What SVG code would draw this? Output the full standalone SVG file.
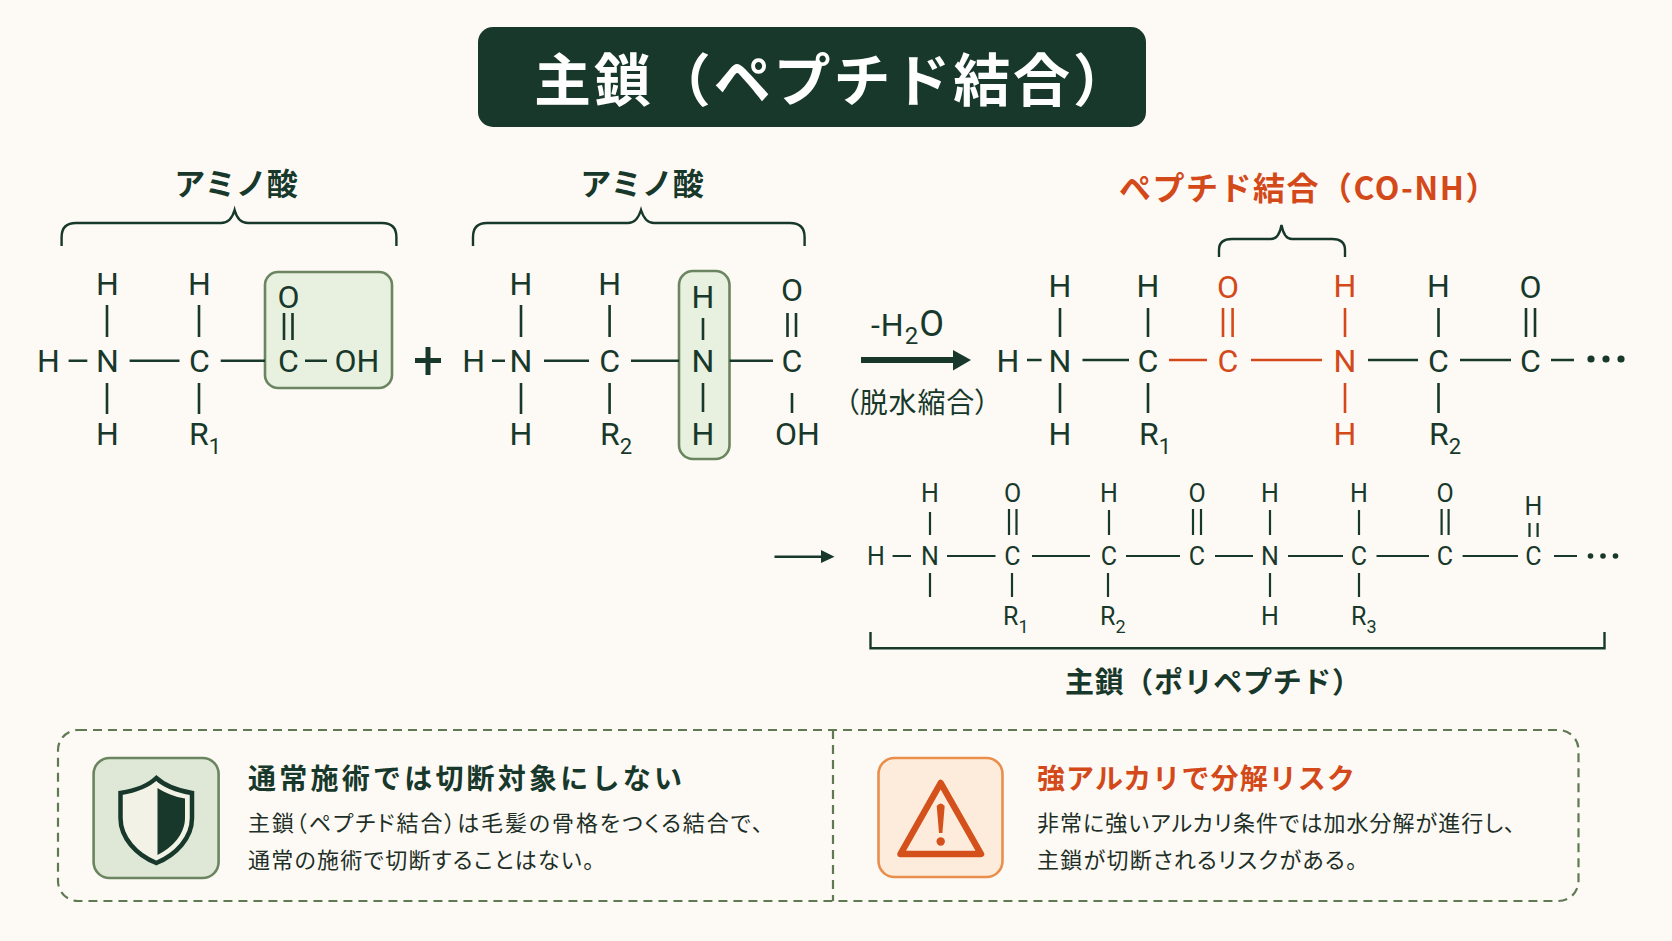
<svg xmlns="http://www.w3.org/2000/svg" width="1672" height="941" viewBox="0 0 1672 941">
<defs>
<style>
.a{font-family:Roboto,"Liberation Sans",sans-serif;font-size:32px;fill:#17382b;text-anchor:middle}
.s{font-family:Roboto,"Liberation Sans",sans-serif;font-size:25px;fill:#17382b;text-anchor:middle}
.l{text-anchor:start}
.o{fill:#d4491a}
.j{font-family:"Noto Sans CJK JP",sans-serif;fill:#17382b}
.b{font-weight:700}
.m{font-weight:500}
.body{font-size:22px;font-weight:400;fill:#1d2f27;font-feature-settings:"palt"}
.bond{stroke:#17382b;stroke-width:2.6;fill:none}
.bo{stroke:#d4491a;stroke-width:2.6;fill:none}
.th{stroke-width:2.2}
.brace{stroke:#17382b;stroke-width:2.4;fill:none}
.hl{fill:#e8f0e0;stroke:#6b8560;stroke-width:2.6}
</style>
</defs>
<rect id="background" width="1672" height="941" fill="#fdfaf5"/>
<g id="title"><rect x="478" y="27" width="668" height="100" rx="15" fill="#17382b"/><text class="j b" x="534" y="101" font-size="57" style="fill:#fff" textLength="596" lengthAdjust="spacing">主鎖（ペプチド結合）</text></g>
<g id="highlights"><rect id="hl-cooh" class="hl" x="265" y="272" width="127" height="116" rx="13"/><rect id="hl-nh" class="hl" x="679" y="271" width="50.500" height="188" rx="14"/></g>
<g id="connectors">
<path class="brace" d="M61.600 246V237Q61.600 223 76 223H221Q231 223 234.600 210Q238 223 248 223H382Q396.400 223 396.400 237V246"/>
<path class="brace" d="M473 246V237Q473 223 487 223H628Q637 223 641 210Q645 223 654 223H790Q804.600 223 804.600 237V246"/>
<path class="brace" d="M1219 257V250Q1219 239 1232 239H1271Q1279 239 1281.500 225Q1284 239 1292 239H1332Q1345 239 1345 250V257"/>
<path class="brace" d="M870.500 632V648.300H1604.500V632"/>
<g id="bonds-1"><path class="bond" d="M68.600 360.700H87.300M129.600 360.700H179.500M220.700 360.700H265M305 360.700H327M107 305V337M107 383V414M199 305V337M199 383V414M284 313V340M292.500 313V340"/></g>
<path id="plus" d="M415 360.500H441M428 347V375" stroke="#17382b" stroke-width="5" fill="none"/>
<g id="bonds-2"><path class="bond" d="M492 360.700H505M544 360.700H589M631 360.700H679M729.600 360.700H773M521 305V337M521 383V414M609.600 305V337M609.600 383V414M703 318V340M703 383V412M787.500 313V337M796 313V337M792 393V413"/></g>
<g id="arrow-1"><path d="M861 360H956" stroke="#17382b" stroke-width="6" fill="none"/><path d="M953 350L971 360L953 370.500Z" fill="#17382b"/></g>
<g id="bonds-3"><path class="bond" d="M1027 360H1041.600M1082.500 360H1129M1368 360H1418M1460 360H1511M1551 360H1574M1060 308V337M1060 383V413M1148 308V337M1148 383V413M1438.500 308V337M1438.500 383V413M1526 308V337M1535 308V337"/>
<path class="bo" d="M1169 360H1207M1251 360H1322M1223 308V337M1232.600 308V337M1345 308V337M1345 383V413"/>
<g fill="#17382b"><circle cx="1591" cy="359" r="3.600"/><circle cx="1606" cy="359" r="3.600"/><circle cx="1621" cy="359" r="3.600"/></g></g>
<g id="arrow-2"><path d="M774.500 556.700H824" stroke="#17382b" stroke-width="2.600" fill="none"/><path d="M821 550L834.500 556.700L821 563Z" fill="#17382b"/></g>
<g id="bonds-4"><path class="bond th" d="M892.600 556H911M947 556H995.500M1032 556H1090M1126 556H1180M1215 556H1253M1288 556H1343M1376.500 556H1429M1462.600 556H1518M1554 556H1577M930 512V535M930 573V597M1009 509V535M1016.500 509V535M1012 573V597M1109 510V535M1108 573V597M1193 509V535M1201 509V535M1270 510V535M1270 573V597M1359 510V535M1359 573V597M1441.600 509V535M1448.600 509V535M1529.500 523V537M1537.600 523V537"/>
<g fill="#17382b"><circle cx="1590.500" cy="556" r="2.800"/><circle cx="1603" cy="556" r="2.800"/><circle cx="1615.500" cy="556" r="2.800"/></g></g>
</g>
<g id="amino-acid-1">
<g id="m1-h1"><text class="a" x="48.500" y="372">H</text></g>
<g id="m1-n"><text class="a" x="107.500" y="372">N</text></g>
<g id="m1-n-ht"><text class="a" x="107.500" y="295">H</text></g>
<g id="m1-n-hb"><text class="a" x="107.500" y="445">H</text></g>
<g id="m1-c"><text class="a" x="199.500" y="372">C</text></g>
<g id="m1-c-ht"><text class="a" x="199.500" y="295">H</text></g>
<g id="m1-r"><text class="a l" x="189" y="445">R<tspan font-size="22" dy="9">1</tspan></text></g>
<g id="m1-o"><text class="a" x="288.500" y="308">O</text></g>
<g id="m1-c2"><text class="a" x="288.500" y="372">C</text></g>
<g id="m1-oh"><text class="a" x="357" y="372">OH</text></g>
</g>
<g id="amino-acid-2">
<g id="m2-h1"><text class="a" x="473.600" y="372">H</text></g>
<g id="m2-n"><text class="a" x="521" y="372">N</text></g>
<g id="m2-n-ht"><text class="a" x="521" y="295">H</text></g>
<g id="m2-n-hb"><text class="a" x="521" y="445">H</text></g>
<g id="m2-c"><text class="a" x="609.600" y="372">C</text></g>
<g id="m2-c-ht"><text class="a" x="609.600" y="295">H</text></g>
<g id="m2-r"><text class="a l" x="600" y="445">R<tspan font-size="22" dy="9">2</tspan></text></g>
<g id="m2-hh"><text class="a" x="703" y="308">H</text></g>
<g id="m2-nn"><text class="a" x="703" y="372">N</text></g>
<g id="m2-hb"><text class="a" x="703" y="445">H</text></g>
<g id="m2-o"><text class="a" x="792" y="301">O</text></g>
<g id="m2-c2"><text class="a" x="792" y="372">C</text></g>
<g id="m2-oh"><text class="a" x="797.500" y="445">OH</text></g>
</g>
<g id="labels">
<g id="label-aa1"><text class="j b" x="236" y="195" font-size="31" text-anchor="middle">アミノ酸</text></g>
<g id="label-aa2"><text class="j b" x="642" y="195" font-size="31" text-anchor="middle">アミノ酸</text></g>
<g id="label-bond"><text class="j b" x="1119" y="200" font-size="32" letter-spacing="1.500" style="fill:#d4491a">ペプチド結合（CO-NH）</text></g>
<g id="label-water"><text class="a l" x="871" y="336" font-size="36" letter-spacing="1">-H<tspan font-size="24" dy="8">2</tspan><tspan font-size="36" dy="-8">O</tspan></text></g>
<g id="label-cond"><text class="j" x="845" y="413" font-size="28" textLength="144" lengthAdjust="spacing" style="font-feature-settings:'palt'">（脱水縮合）</text></g>
<g id="label-main"><text class="j b" x="1065" y="693" font-size="29" textLength="296" lengthAdjust="spacing">主鎖（ポリペプチド）</text></g>
</g>
<g id="dipeptide">
<g id="m3-h1"><text class="a" x="1008" y="372">H</text></g>
<g id="m3-n"><text class="a" x="1060" y="372">N</text></g>
<g id="m3-n-ht"><text class="a" x="1060" y="297">H</text></g>
<g id="m3-n-hb"><text class="a" x="1060" y="445">H</text></g>
<g id="m3-c"><text class="a" x="1148" y="372">C</text></g>
<g id="m3-c-ht"><text class="a" x="1148" y="297">H</text></g>
<g id="m3-r1"><text class="a l" x="1139" y="445">R<tspan font-size="22" dy="9">1</tspan></text></g>
<g id="m3-o"><text class="a o" x="1228" y="298">O</text></g>
<g id="m3-c2"><text class="a o" x="1228" y="372">C</text></g>
<g id="m3-hn"><text class="a o" x="1345" y="297">H</text></g>
<g id="m3-nn"><text class="a o" x="1345" y="372">N</text></g>
<g id="m3-hb"><text class="a o" x="1345" y="445">H</text></g>
<g id="m3-c3"><text class="a" x="1438.500" y="372">C</text></g>
<g id="m3-c3-ht"><text class="a" x="1438.500" y="297">H</text></g>
<g id="m3-r2"><text class="a l" x="1429" y="445">R<tspan font-size="22" dy="9">2</tspan></text></g>
<g id="m3-o2"><text class="a" x="1530.500" y="298">O</text></g>
<g id="m3-c4"><text class="a" x="1530.500" y="372">C</text></g>
</g>
<g id="polypeptide">
<g id="p-h1"><text class="s" x="876" y="565">H</text></g>
<g id="p-n1"><text class="s" x="930" y="565">N</text></g>
<g id="p-h1t"><text class="s" x="930" y="502">H</text></g>
<g id="p-c1"><text class="s" x="1012.500" y="565">C</text></g>
<g id="p-o1"><text class="s" x="1012.500" y="502">O</text></g>
<g id="p-r1"><text class="s l" x="1003" y="625">R<tspan font-size="18" dy="8">1</tspan></text></g>
<g id="p-c2"><text class="s" x="1109" y="565">C</text></g>
<g id="p-h2"><text class="s" x="1109" y="502">H</text></g>
<g id="p-r2"><text class="s l" x="1100" y="625">R<tspan font-size="18" dy="8">2</tspan></text></g>
<g id="p-c3"><text class="s" x="1197" y="565">C</text></g>
<g id="p-o3"><text class="s" x="1197" y="502">O</text></g>
<g id="p-n2"><text class="s" x="1270" y="565">N</text></g>
<g id="p-h3"><text class="s" x="1270" y="502">H</text></g>
<g id="p-h4"><text class="s" x="1270" y="625">H</text></g>
<g id="p-c4"><text class="s" x="1359" y="565">C</text></g>
<g id="p-h5"><text class="s" x="1359" y="502">H</text></g>
<g id="p-r3"><text class="s l" x="1351" y="625">R<tspan font-size="18" dy="8">3</tspan></text></g>
<g id="p-c5"><text class="s" x="1445" y="565">C</text></g>
<g id="p-o5"><text class="s" x="1445" y="502">O</text></g>
<g id="p-c6"><text class="s" x="1533.500" y="565">C</text></g>
<g id="p-h6"><text class="s" x="1533.500" y="515">H</text></g>
</g>
<g id="notes">
<rect id="note-frame" x="58" y="730" width="1520.500" height="171" rx="20" fill="none" stroke="#5f7a53" stroke-width="2.200" stroke-dasharray="9 6"/>
<path id="note-divider" d="M833 730V901" stroke="#5f7a53" stroke-width="2.200" stroke-dasharray="9 6" fill="none"/>
<g id="note-safe">
<rect x="93.600" y="758" width="125" height="120" rx="16" fill="#dfe8d6" stroke="#6b8560" stroke-width="2.600"/>
<path d="M156.300 778C166 787 180 791 192 793L192 818C192 838 176 855 156.300 863C136.500 855 120.500 838 120.500 818L120.500 793C133 791 147 787 156.300 778Z" fill="#f2f3e6" stroke="#17382b" stroke-width="4.500" stroke-linejoin="miter"/>
<path d="M157.500 788C165 793 175 797 185 798.500L185 818C185 834 172 848 157.500 855Z" fill="#17382b"/>
<text class="j b" x="248" y="789" font-size="28" textLength="434" lengthAdjust="spacing">通常施術では切断対象にしない</text>
<text class="j body" x="248" y="831" textLength="515" lengthAdjust="spacing">主鎖（ペプチド結合）は毛髪の骨格をつくる結合で、</text>
<text class="j body" x="248" y="868" textLength="346" lengthAdjust="spacing">通常の施術で切断することはない。</text>
</g>
<g id="note-risk">
<rect x="878.500" y="758" width="124" height="119" rx="16" fill="#fdecdc" stroke="#e98f4b" stroke-width="2.600"/>
<path d="M940.700 783L981 854H900.500Z" fill="none" stroke="#d4511c" stroke-width="6.500" stroke-linejoin="round"/>
<path d="M936.700 806Q940.700 801 944.700 806L942.400 833H939Z" fill="#d4511c"/>
<circle cx="940.700" cy="841.500" r="4.200" fill="#d4511c"/>
<text class="j b" x="1037" y="789" font-size="28" textLength="318" lengthAdjust="spacing" style="fill:#d4491a">強アルカリで分解リスク</text>
<text class="j body" x="1037" y="831" textLength="478" lengthAdjust="spacing">非常に強いアルカリ条件では加水分解が進行し、</text>
<text class="j body" x="1037" y="868" textLength="320" lengthAdjust="spacing">主鎖が切断されるリスクがある。</text>
</g>
</g>
</svg>
